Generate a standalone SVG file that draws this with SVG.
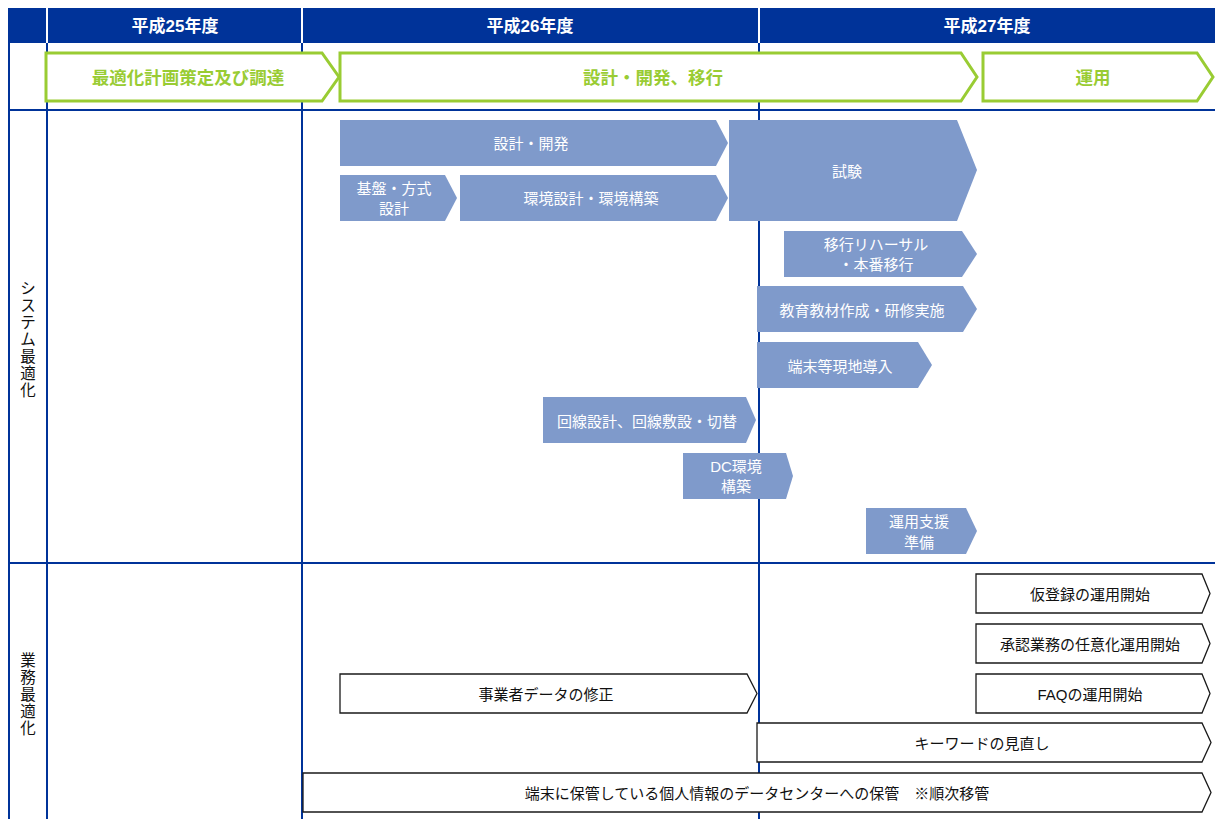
<svg xmlns="http://www.w3.org/2000/svg" width="1215" height="819" viewBox="0 0 1215 819">
<style>
text{font-family:"Liberation Sans","Noto Sans CJK JP",sans-serif;text-anchor:middle;dominant-baseline:central}
.hd{fill:#fff;font-size:17px;font-weight:bold}
.gl{fill:#fff;stroke:#99CC33;stroke-width:3;stroke-linejoin:miter}
.gt{fill:#99CC33;font-size:17.5px;font-weight:bold}
.bs{fill:#7F9ACB}
.bt{fill:#fff;font-size:15px}
.wa{fill:#fff;stroke:#1a1a1a;stroke-width:1.3}
.wt{fill:#111;font-size:15px}
.ln{stroke:#003399;stroke-width:2;fill:none}
.vt{fill:#111;font-size:15.5px}
</style>
<rect width="1215" height="819" fill="#fff"/>
<g id="grid">
<rect x="8" y="8" width="1207" height="35" fill="#003399"/>
<line x1="47" y1="8" x2="47" y2="43" stroke="#fff" stroke-width="2"/>
<line x1="302" y1="8" x2="302" y2="43" stroke="#fff" stroke-width="2"/>
<line x1="759" y1="8" x2="759" y2="43" stroke="#fff" stroke-width="2"/>
<line class="ln" x1="9" y1="43" x2="9" y2="819"/>
<line class="ln" x1="47" y1="43" x2="47" y2="819"/>
<line class="ln" x1="302" y1="43" x2="302" y2="819"/>
<line class="ln" x1="759" y1="43" x2="759" y2="819"/>
<line class="ln" x1="8" y1="110" x2="1215" y2="110"/>
<line class="ln" x1="8" y1="563" x2="1215" y2="563"/>
<text class="hd" x="175" y="26">平成25年度</text>
<text class="hd" x="530" y="26">平成26年度</text>
<text class="hd" x="987" y="26">平成27年度</text>
<text class="vt" x="28" y="288">シ</text>
<text class="vt" x="28" y="305">ス</text>
<text class="vt" x="28" y="322">テ</text>
<text class="vt" x="28" y="339">ム</text>
<text class="vt" x="28" y="356">最</text>
<text class="vt" x="28" y="373">適</text>
<text class="vt" x="28" y="390">化</text>
<text class="vt" x="28" y="660">業</text>
<text class="vt" x="28" y="677">務</text>
<text class="vt" x="28" y="694">最</text>
<text class="vt" x="28" y="711">適</text>
<text class="vt" x="28" y="728">化</text>
</g>
<g id="phase1"><polygon class="gl" points="46,53 322,53 339,77 322,101 46,101"/><text class="gt" x="188" y="78">最適化計画策定及び調達</text></g>
<g id="phase2"><polygon class="gl" points="340,53 961,53 977,77 961,101 340,101"/><text class="gt" x="653" y="78">設計・開発、移行</text></g>
<g id="phase3"><polygon class="gl" points="983,53 1197,53 1213,77 1197,101 983,101"/><text class="gt" x="1093" y="78">運用</text></g>

<g id="n-design"><polygon class="bs" points="340,120 716,120 728,143 716,166 340,166"/><text class="bt" x="531" y="143">設計・開発</text></g>
<g id="n-base"><polygon class="bs" points="340,175 445,175 457,198 445,221 340,221"/><text class="bt" x="394" y="188">基盤・方式</text><text class="bt" x="394" y="208">設計</text></g>
<g id="n-env"><polygon class="bs" points="460,175 716,175 728,198 716,221 460,221"/><text class="bt" x="591" y="198">環境設計・環境構築</text></g>
<g id="n-test"><polygon class="bs" points="729,120 957,120 977,170 957,221 729,221"/><text class="bt" x="847" y="171">試験</text></g>
<g id="n-rehearsal"><polygon class="bs" points="784,231 962,231 977,254 962,277 784,277"/><text class="bt" x="876" y="244">移行リハーサル</text><text class="bt" x="876" y="264">・本番移行</text></g>
<g id="n-edu"><polygon class="bs" points="757,286 963,286 977,309 963,332 757,332"/><text class="bt" x="862" y="310">教育教材作成・研修実施</text></g>
<g id="n-term"><polygon class="bs" points="757,342 918,342 932,365 918,388 757,388"/><text class="bt" x="840" y="366">端末等現地導入</text></g>
<g id="n-line"><polygon class="bs" points="543,397 746,397 756,420 746,443 543,443"/><text class="bt" x="647" y="421">回線設計、回線敷設・切替</text></g>
<g id="n-dc"><polygon class="bs" points="683,453 786,453 793,476 786,499 683,499"/><text class="bt" x="736" y="466">DC環境</text><text class="bt" x="736" y="486">構築</text></g>
<g id="n-ops"><polygon class="bs" points="866,508 966,508 977,531 966,554 866,554"/><text class="bt" x="919" y="521">運用支援</text><text class="bt" x="919" y="542">準備</text></g>

<g id="w-karitouroku"><polygon class="wa" points="976,574 1202,574 1210,593.5 1202,613 976,613"/><text class="wt" x="1090" y="594">仮登録の運用開始</text></g>
<g id="w-shonin"><polygon class="wa" points="976,624 1202,624 1210,643.5 1202,663 976,663"/><text class="wt" x="1090" y="644">承認業務の任意化運用開始</text></g>
<g id="w-faq"><polygon class="wa" points="976,674 1202,674 1210,693.5 1202,713 976,713"/><text class="wt" x="1090" y="694">FAQの運用開始</text></g>
<g id="w-jigyosha"><polygon class="wa" points="340,674 747,674 757,693.5 747,713 340,713"/><text class="wt" x="546" y="694">事業者データの修正</text></g>
<g id="w-keyword"><polygon class="wa" points="757,723 1202,723 1211,742.5 1202,762 757,762"/><text class="wt" x="982" y="743">キーワードの見直し</text></g>
<g id="w-hokan"><polygon class="wa" points="303,773 1202,773 1211,792.5 1202,812 303,812"/><text class="wt" x="757" y="793">端末に保管している個人情報のデータセンターへの保管　※順次移管</text></g>
<g id="connectors"></g>
</svg>
